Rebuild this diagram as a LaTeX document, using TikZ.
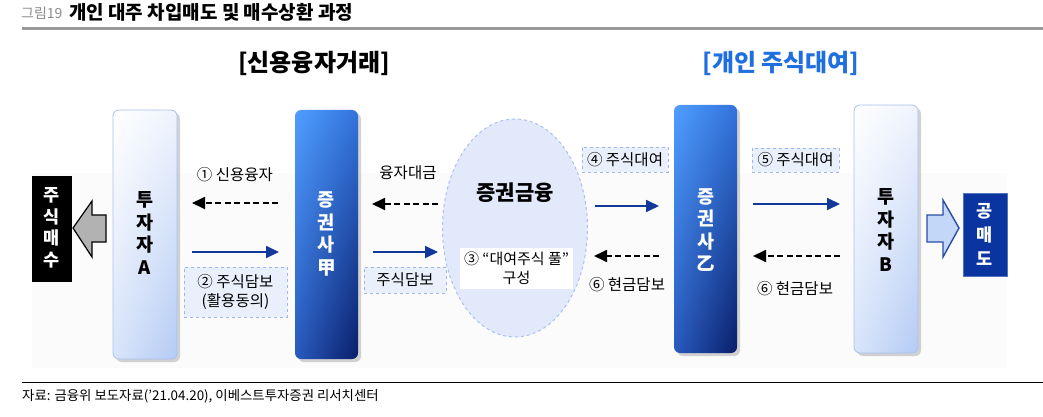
\documentclass[tikz,border=0pt]{standalone}
\usepackage{fontspec}
\setmainfont{Noto Sans CJK KR}
\usetikzlibrary{arrows.meta,shapes.geometric,shadows,shadings}
\definecolor{arrblue}{HTML}{12399A}
\definecolor{lblbox}{HTML}{EAF0FB}
\definecolor{lblborder}{HTML}{9DB8E8}
\definecolor{headblue}{HTML}{1F6FE0}
\definecolor{navy}{HTML}{0A35A0}
\definecolor{ellfill}{HTML}{E1E9FA}
\definecolor{ellborder}{HTML}{A9C1F0}
\definecolor{invul}{HTML}{FFFFFF}
\definecolor{invur}{HTML}{EEF3FD}
\definecolor{invll}{HTML}{D8E4FA}
\definecolor{invlr}{HTML}{B4CBF4}
\definecolor{secul}{HTML}{509EFF}
\definecolor{secur}{HTML}{3273DC}
\definecolor{secll}{HTML}{285ABE}
\definecolor{seclr}{HTML}{0A1E69}
\definecolor{blkfill}{HTML}{C3D7F8}
\tikzset{
  lbl/.style={font=\fontsize{15.5}{18}\selectfont, inner sep=1pt, align=center},
  dbox/.style={draw=lblborder, dashed, fill=lblbox, line width=0.8pt, font=\fontsize{15.5}{19}\selectfont, align=center, inner sep=0pt},
  invbox/.style={draw=ellborder, line width=0.8pt, rounded corners=6pt,
     upper left=invul, upper right=invur, lower left=invll, lower right=invlr,
     drop shadow={shadow xshift=3pt, shadow yshift=-3pt, opacity=0.35}},
  secbox/.style={rounded corners=6pt,
     upper left=secul, upper right=secur, lower left=secll, lower right=seclr,
     drop shadow={shadow xshift=3pt, shadow yshift=-3pt, opacity=0.35}},
  vtext/.style={font=\fontsize{18.5}{22.5}\selectfont\bfseries, align=center, inner sep=0pt},
  solidarr/.style={draw=arrblue, line width=1.8pt, -{Triangle[length=13pt,width=12pt]}},
  dasharr/.style={draw=black, line width=1.8pt, dash pattern=on 6pt off 3.5pt, -{Triangle[length=13pt,width=12pt]}},
}
\begin{document}
\begin{tikzpicture}[x=1pt,y=-1pt]
\useasboundingbox (0,0) rectangle (1043,417);
\fill[white] (0,0) rectangle (1043,417);
% faint background
\fill[black!1.5] (32,173) rectangle (1007,368);
% title
\node[anchor=west, inner sep=0pt, text=black!45, font=\fontsize{14}{16}\selectfont] (fig) at (21,13) {그림19};
\node[anchor=west, inner sep=0pt, font=\fontsize{19}{22}\selectfont\bfseries] (title) at (69,12) {개인 대주 차입매도 및 매수상환 과정};
\coordinate (tl1) at (22,29); \coordinate (tl2) at (1043,29);
\draw[black!40, line width=3pt] (tl1) -- (tl2);
% headings
\node[font=\fontsize{24}{27}\selectfont\bfseries] (h1) at (314,63) {[신용융자거래]};
\node[font=\fontsize{24}{27}\selectfont\bfseries, text=headblue] (h2) at (781,63) {[개인 주식대여]};
% ellipse
\node[ellipse, draw=ellborder, dashed, line width=1pt, fill=ellfill, minimum width=145pt, minimum height=218pt, inner sep=0pt] (sf) at (515,228) {};
\node[font=\fontsize{21}{24}\selectfont\bfseries] (sft) at (515,193) {증권금융};
\node[fill=white, minimum width=113pt, minimum height=41pt, inner sep=0pt, font=\fontsize{15}{19}\selectfont, align=center] (pool) at (516.5,268.5) {③ “대여주식 풀”\\구성};
% boxes
\path[invbox] (113,110) rectangle (177,359);
\node (A) at (145,234.5) [minimum width=64pt, minimum height=249pt, inner sep=0pt] {};
\node[vtext] (At) at (145,233) {투\\자\\자\\A};
\path[secbox] (295,110) rectangle (358,359);
\node (G) at (326.5,234.5) [minimum width=63pt, minimum height=249pt, inner sep=0pt] {};
\node[vtext, text=white] (Gt) at (326.5,234) {증\\권\\사\\甲};
\path[secbox] (674,105) rectangle (737,353);
\node (E) at (705.5,229) [minimum width=63pt, minimum height=248pt, inner sep=0pt] {};
\node[vtext, text=white] (Et) at (705.5,230) {증\\권\\사\\乙};
\path[invbox] (854,105) rectangle (918,353);
\node (B) at (886,229) [minimum width=64pt, minimum height=248pt, inner sep=0pt] {};
\node[vtext] (Bt) at (886,230) {투\\자\\자\\B};
% buy box
\node[fill=black, minimum width=40pt, minimum height=106pt, inner sep=0pt] (buy) at (52,229) {};
\node[font=\fontsize{17.5}{21.5}\selectfont\bfseries, text=white, align=center, inner sep=0pt] (buyt) at (52,228) {주\\식\\매\\수};
% short sell box
\node[fill=navy, draw=navy!70!white, minimum width=44pt, minimum height=83pt, inner sep=0pt] (ss) at (985,234.5) {};
\node[font=\fontsize{17.5}{24}\selectfont\bfseries, text=white, align=center, inner sep=0pt] (sst) at (985,234) {공\\매\\도};
% block arrows
\draw[black, line width=1.2pt, fill=black!30, line join=miter] (73,228) -- (92,201) -- (92,215) -- (106,215) -- (106,242) -- (92,242) -- (92,257) -- cycle;
\draw[arrblue!90!white, line width=1.4pt, fill=blkfill, line join=miter] (959,228) -- (943,200) -- (943,215) -- (927,215) -- (927,242) -- (943,242) -- (943,257) -- cycle;
% arrows left section
\coordinate (a1s) at (278,203); \coordinate (a1e) at (192,203);
\draw[dasharr] (a1s) -- (a1e);
\node[lbl] (l1) at (235,175) {① 신용융자};
\coordinate (a2s) at (192,252); \coordinate (a2e) at (279,252);
\draw[solidarr] (a2s) -- (a2e);
\node[dbox, minimum width=103pt, minimum height=50pt] (l2) at (235.5,292) {② 주식담보\\(활용동의)};
\coordinate (a3s) at (438,204); \coordinate (a3e) at (372,204);
\draw[dasharr] (a3s) -- (a3e);
\node[lbl] (l3) at (408,173) {융자대금};
\coordinate (a4s) at (373,252); \coordinate (a4e) at (438,252);
\draw[solidarr] (a4s) -- (a4e);
\node[dbox, minimum width=82pt, minimum height=26pt] (l4) at (405,280) {주식담보};
% arrows right section
\coordinate (a5s) at (595,206); \coordinate (a5e) at (659,206);
\draw[solidarr] (a5s) -- (a5e);
\node[dbox, minimum width=86pt, minimum height=25pt] (l5) at (625,159.5) {④ 주식대여};
\coordinate (a6s) at (659,256); \coordinate (a6e) at (594,256);
\draw[dasharr] (a6s) -- (a6e);
\node[lbl] (l6) at (627,285) {⑥ 현금담보};
\coordinate (a7s) at (753,204); \coordinate (a7e) at (840,204);
\draw[solidarr] (a7s) -- (a7e);
\node[dbox, minimum width=87pt, minimum height=24pt] (l7) at (795.5,160) {⑤ 주식대여};
\coordinate (a8s) at (840,256); \coordinate (a8e) at (753,256);
\draw[dasharr] (a8s) -- (a8e);
\node[lbl] (l8) at (795,289) {⑥ 현금담보};
% footer
\coordinate (fl1) at (22,382); \coordinate (fl2) at (1043,382);
\draw[black, line width=1pt] (fl1) -- (fl2);
\node[anchor=west, inner sep=0pt, font=\fontsize{13.4}{16}\selectfont] (src) at (22,396) {자료: 금융위 보도자료(’21.04.20), 이베스트투자증권 리서치센터};
\end{tikzpicture}
\end{document}
